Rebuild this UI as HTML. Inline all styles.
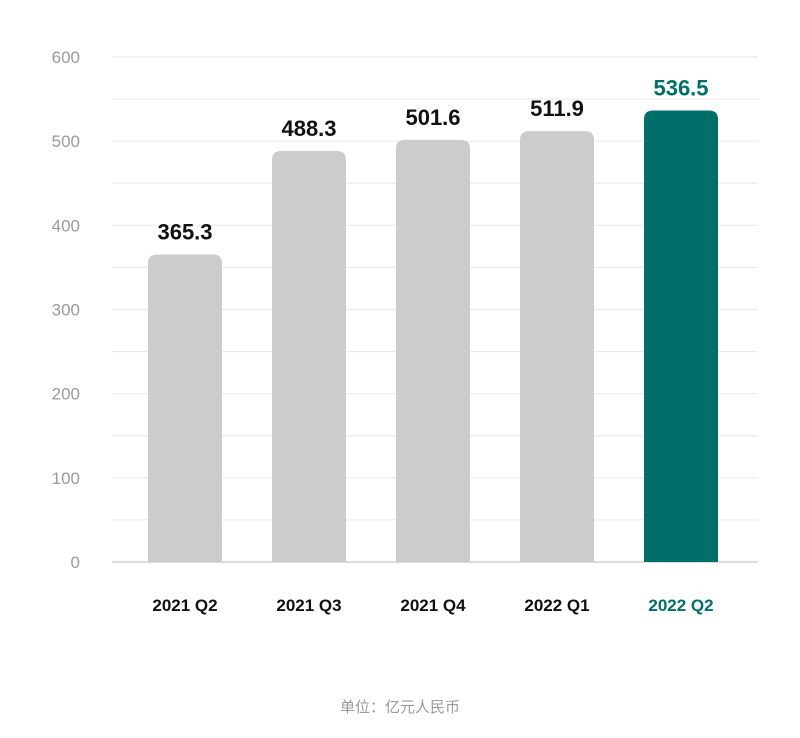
<!DOCTYPE html>
<html><head><meta charset="utf-8"><style>
body{margin:0;background:#fff;width:800px;height:738px;overflow:hidden}
svg{display:block}
</style></head><body>
<svg id="chart" width="800" height="738" xmlns="http://www.w3.org/2000/svg"></svg>
<script>
const categories = ["2021 Q2","2021 Q3","2021 Q4","2022 Q1","2022 Q2"];
const values = [365.3, 488.3, 501.6, 511.9, 536.5];
const valueLabels = ["365.3","488.3","501.6","511.9","536.5"];
const yTicks = [0,100,200,300,400,500,600];
const gridValues = [0,50,100,150,200,250,300,350,400,450,500,550,600];

const NS="http://www.w3.org/2000/svg";
const svg=document.getElementById('chart');
const y0=562, y600=57, xL=112, xR=758;
const yScale=v=>y0-(v/600)*(y0-y600);
const barW=74, step=124, firstX=148;
const xScale=i=>firstX+i*step;
function mk(tag,attrs,parent){const e=document.createElementNS(NS,tag);for(const k in attrs)e.setAttribute(k,attrs[k]);(parent||svg).appendChild(e);return e;}
const font='"Liberation Sans","Noto Sans CJK SC",sans-serif';

gridValues.forEach(v=>{
  const l=mk('line',{x1:xL,x2:xR,y1:yScale(v),y2:yScale(v),stroke:v===0?'#dddddd':'#ebebeb','stroke-width':v===0?2:1.2});
  
  
});
yTicks.forEach(v=>{
  const t=mk('text',{x:80,y:yScale(v)+6,'text-anchor':'end','font-family':font,'font-size':17,fill:'#9a9a9a'});
  t.textContent=v;
  
  
});
categories.forEach((c,i)=>{
  const last=i===categories.length-1;
  const x=xScale(i), y=yScale(values[i]), h=y0-y, r=9;
  const p=mk('path',{d:`M${x},${y0} L${x},${y+r} Q${x},${y} ${x+r},${y} L${x+barW-r},${y} Q${x+barW},${y} ${x+barW},${y+r} L${x+barW},${y0} Z`,fill:last?'#006f69':'#cccccc'});
  
  
  const vl=mk('text',{x:x+barW/2,y:y-15,'text-anchor':'middle','font-family':font,'font-size':22,'font-weight':'bold',fill:last?'#006f69':'#111'});
  vl.textContent=valueLabels[i];
  
  
  const cl=mk('text',{x:x+barW/2,y:611,'text-anchor':'middle','font-family':font,'font-size':17,'font-weight':'bold',fill:last?'#006f69':'#111'});
  cl.textContent=c;
  
  
});
const u=mk('text',{x:400,y:712,'text-anchor':'middle','font-family':font,'font-size':15,fill:'#9a9a9a'});
u.textContent='单位：亿元人民币';


</script>
</body></html>
